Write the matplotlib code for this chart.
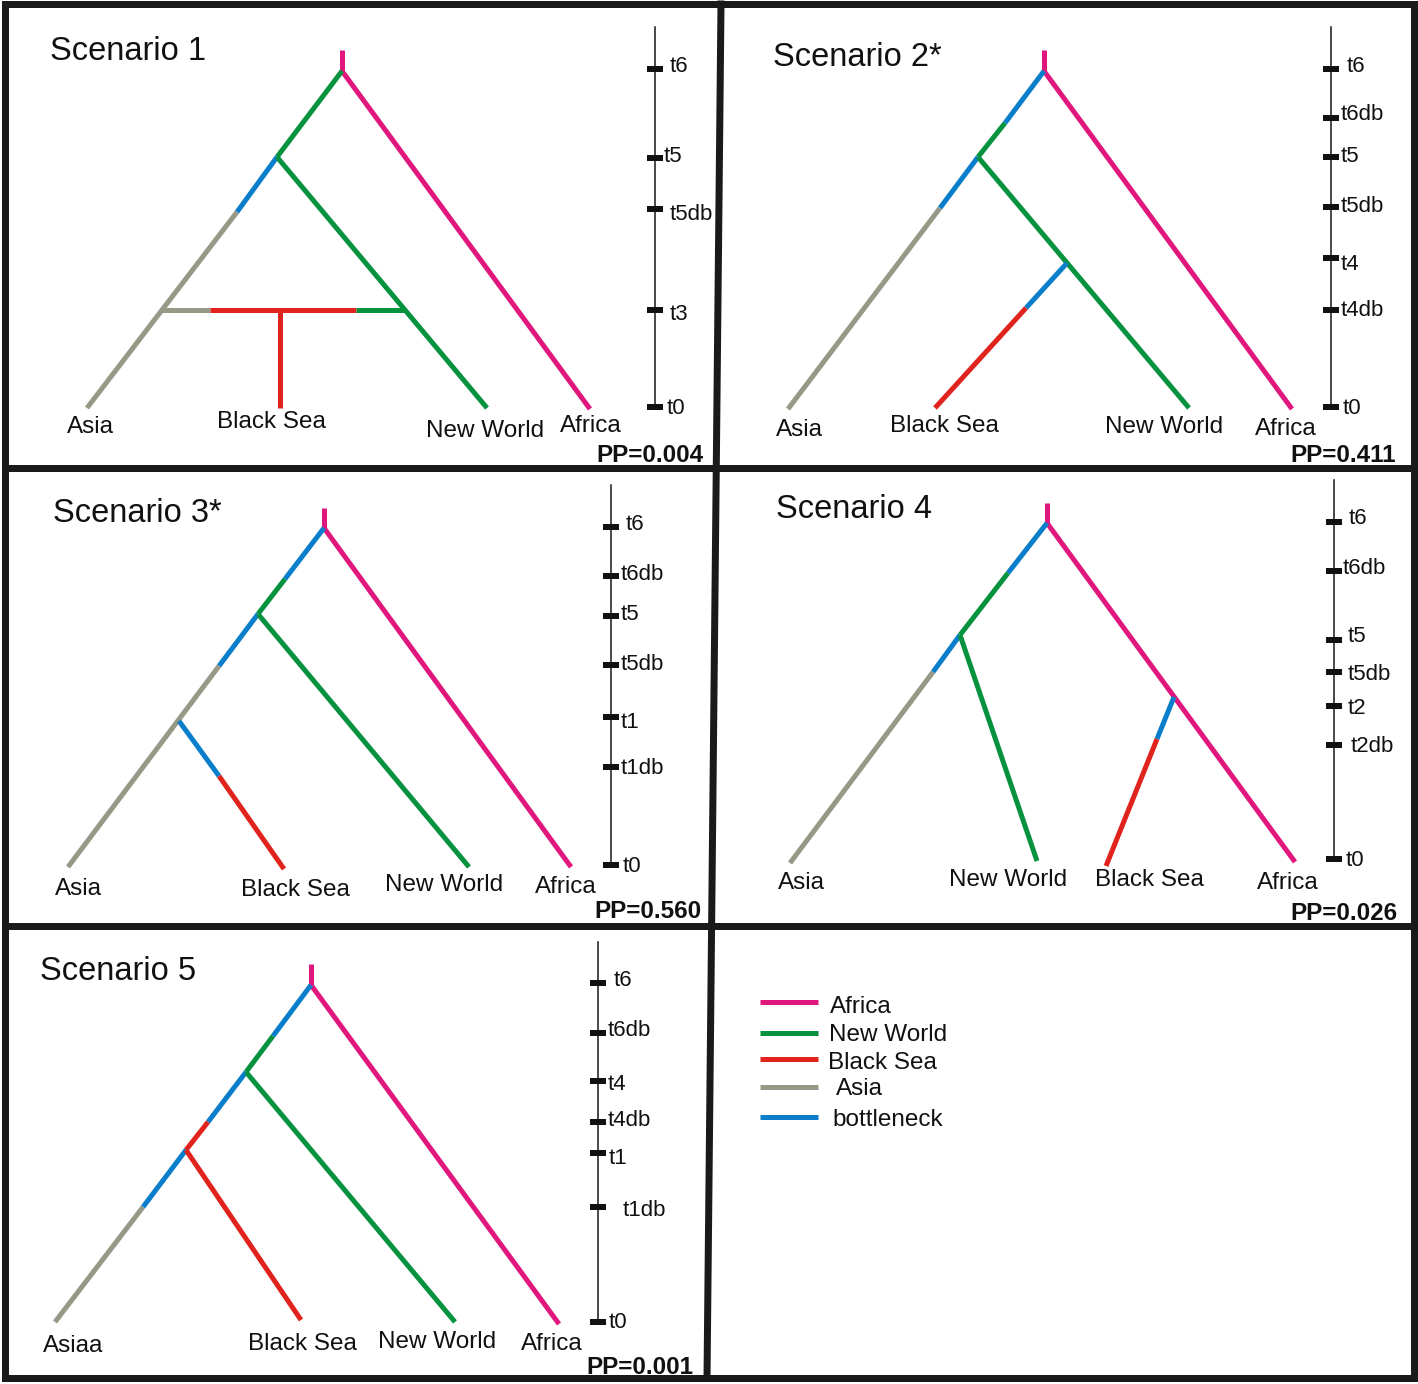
import matplotlib
matplotlib.use("Agg")
import matplotlib.pyplot as plt

plt.rcParams['font.family'] = ['Liberation Sans', 'DejaVu Sans']

W, H = 1418, 1384
DPI = 100
PX = 72.0 / DPI  # points per pixel
TEXT_SHIFT = 2   # pixels: visual centring of glyphs

# ---------------- colours / legend ----------------
LEGEND_NAMES = ["Africa", "New World", "Black Sea", "Asia", "bottleneck"]
COLORS = {
    "Africa": "#E0187E",
    "New World": "#07923F",
    "Black Sea": "#E0231C",
    "Asia": "#989887",
    "bottleneck": "#0A7ECB",
}

# ---------------- scenario titles / posterior probabilities ----------------
TITLES = ["Scenario 1", "Scenario 2*", "Scenario 3*", "Scenario 4", "Scenario 5"]
PP_VALUES = ["0.004", "0.411", "0.560", "0.026", "0.001"]

# ---------------- time axes (labels and their heights) ----------------
S1_TICKS = ["t6", "t5", "t5db", "t3", "t0"]
S1_TICK_Y = [69, 158, 209, 310, 407]
S2_TICKS = ["t6", "t6db", "t5", "t5db", "t4", "t4db", "t0"]
S2_TICK_Y = [69, 118, 157, 207, 258, 310, 407]
S3_TICKS = ["t6", "t6db", "t5", "t5db", "t1", "t1db", "t0"]
S3_TICK_Y = [527, 576, 616, 665, 717, 767, 865]
S4_TICKS = ["t6", "t6db", "t5", "t5db", "t2", "t2db", "t0"]
S4_TICK_Y = [522, 571, 640, 672, 706, 745, 859]
S5_TICKS = ["t6", "t6db", "t4", "t4db", "t1", "t1db", "t0"]
S5_TICK_Y = [983, 1033, 1081, 1122, 1153, 1207, 1322]

# ---------------- tip labels ----------------
S1_TIPS = ["Asia", "Black Sea", "New World", "Africa"]
S2_TIPS = ["Asia", "Black Sea", "New World", "Africa"]
S3_TIPS = ["Asia", "Black Sea", "New World", "Africa"]
S4_TIPS = ["Asia", "New World", "Black Sea", "Africa"]
S5_TIPS = ["Asiaa", "Black Sea", "New World", "Africa"]

# ---------------- tree branches: (population colour, start node, end node) ----------------
S1_BRANCHES = [
    ("Africa", (342, 50), (342, 71)),
    ("Africa", (342, 71), (590, 409)),
    ("New World", (342, 71), (277, 157)),
    ("bottleneck", (277, 157), (237, 212)),
    ("Asia", (237, 212), (87, 408)),
    ("New World", (277, 157), (487, 408)),
    ("Asia", (162, 310), (210, 310)),
    ("Black Sea", (210, 310), (356, 310)),
    ("New World", (356, 310), (405, 310)),
    ("Black Sea", (280, 310), (280, 408)),
]
S2_BRANCHES = [
    ("Africa", (1044, 50), (1044, 71)),
    ("Africa", (1044, 71), (1292, 409)),
    ("bottleneck", (1044, 71), (1005, 123)),
    ("New World", (1005, 123), (978, 157)),
    ("bottleneck", (978, 157), (940, 208)),
    ("Asia", (940, 208), (788, 409)),
    ("New World", (978, 157), (1189, 408)),
    ("bottleneck", (1067, 263), (1026, 308)),
    ("Black Sea", (1026, 308), (935, 408)),
]
S3_BRANCHES = [
    ("Africa", (324, 508), (324, 528)),
    ("Africa", (324, 528), (571, 867)),
    ("bottleneck", (324, 528), (285, 579)),
    ("New World", (285, 579), (258, 614)),
    ("bottleneck", (258, 614), (219, 666)),
    ("Asia", (219, 666), (68, 867)),
    ("New World", (258, 614), (469, 867)),
    ("bottleneck", (179, 721), (219, 776)),
    ("Black Sea", (219, 776), (284, 869)),
]
S4_BRANCHES = [
    ("Africa", (1047, 503), (1047, 523)),
    ("Africa", (1047, 523), (1295, 862)),
    ("bottleneck", (1047, 523), (1008, 573)),
    ("New World", (1008, 573), (960, 635)),
    ("bottleneck", (960, 635), (933, 672)),
    ("Asia", (933, 672), (790, 863)),
    ("New World", (960, 635), (1037, 861)),
    ("bottleneck", (1174, 697), (1157, 739)),
    ("Black Sea", (1157, 739), (1106, 866)),
]
S5_BRANCHES = [
    ("Africa", (311, 964), (311, 985)),
    ("Africa", (311, 985), (559, 1324)),
    ("bottleneck", (311, 985), (273, 1036)),
    ("New World", (273, 1036), (246, 1072)),
    ("bottleneck", (246, 1072), (208, 1122)),
    ("Black Sea", (208, 1122), (186, 1150)),
    ("bottleneck", (186, 1150), (143, 1207)),
    ("Asia", (143, 1207), (55, 1322)),
    ("Black Sea", (186, 1150), (301, 1320)),
    ("New World", (246, 1072), (455, 1322)),
]

# ---------------- layout (positions of panel furniture) ----------------
TITLE_POS = [(50, 50), (773, 55), (53, 512), (776, 507), (40, 969)]
AXIS_X = [655, 1331, 611, 1334, 598]
AXIS_SPAN = [(27, 407), (27, 407), (485, 865), (480, 859), (942, 1322)]
TICK_LABEL_DX = [
    [15, 9, 15, 15, 12],
    [16, 10, 10, 10, 10, 10, 12],
    [15, 10, 10, 10, 10, 10, 12],
    [15, 9, 14, 14, 14, 17, 12],
    [16, 10, 10, 10, 11, 25, 11],
]
TICK_LABEL_DY = [
    [-5, -3, 3, 2, -1],
    [-5, -5, -3, -3, 4, -1, -1],
    [-5, -4, -3, -2, 3, 0, -1],
    [-5, -4, -5, 1, 0, -1, -1],
    [-5, -5, 1, -3, 4, 2, -2],
]
TIP_LABEL_POS = [
    [(90, 425), (271, 420), (485, 429), (591, 424)],
    [(799, 428), (944, 424), (1164, 425), (1286, 427)],
    [(78, 887), (295, 888), (444, 883), (566, 885)],
    [(801, 881), (1008, 878), (1149, 878), (1288, 881)],
    [(73, 1344), (302, 1342), (437, 1340), (552, 1342)],
]
PP_POS = [(703, 453), (1396, 454), (702, 909), (1398, 912), (693, 1366)]
LEGEND_Y = [1002, 1033, 1059, 1087, 1117]
LEGEND_TEXT_X = [830, 829, 828, 836, 832]
LEGEND_TEXT_DY = [3, 0, 2, 0, 1]

SCEN_TICKS = [S1_TICKS, S2_TICKS, S3_TICKS, S4_TICKS, S5_TICKS]
SCEN_TICK_Y = [S1_TICK_Y, S2_TICK_Y, S3_TICK_Y, S4_TICK_Y, S5_TICK_Y]
SCEN_TIPS = [S1_TIPS, S2_TIPS, S3_TIPS, S4_TIPS, S5_TIPS]
SCEN_BRANCHES = [S1_BRANCHES, S2_BRANCHES, S3_BRANCHES, S4_BRANCHES, S5_BRANCHES]

BRANCH_LW = 5 * PX
FRAME_LW = 7 * PX

fig = plt.figure(figsize=(W / DPI, H / DPI), dpi=DPI)
fig.patch.set_facecolor("white")
ax = fig.add_axes([0, 0, 1, 1])
ax.set_xlim(0, W)
ax.set_ylim(H, 0)
ax.axis("off")

# frame and dividers
fx0, fx1, fy0, fy1 = 5, 1414, 4, 1378
ax.plot([fx0, fx1, fx1, fx0, fx0], [fy0, fy0, fy1, fy1, fy0], color="#1a1a1a",
        lw=FRAME_LW, solid_joinstyle="miter", zorder=5)
ax.plot([fx0, fx1], [468, 468], color="#1a1a1a", lw=FRAME_LW, zorder=5)
ax.plot([fx0, fx1], [926, 926], color="#1a1a1a", lw=FRAME_LW, zorder=5)
ax.plot([721, 707], [fy0, fy1], color="#1a1a1a", lw=FRAME_LW, zorder=5)

for i in range(5):
    # title
    tx, ty = TITLE_POS[i]
    ax.text(tx, ty + TEXT_SHIFT, TITLES[i], fontsize=23.5, ha="left", va="center",
            color="#111111")

    # time axis
    axx = AXIS_X[i]
    y0, y1 = AXIS_SPAN[i]
    ax.plot([axx, axx], [y0, y1], color="#222222", lw=1.6 * PX)
    for lab, ty_, dx, dy in zip(SCEN_TICKS[i], SCEN_TICK_Y[i], TICK_LABEL_DX[i], TICK_LABEL_DY[i]):
        ax.plot([axx - 8, axx + 8], [ty_, ty_], color="#111111", lw=6 * PX,
                solid_capstyle="butt")
        ax.text(axx + dx, ty_ + dy + TEXT_SHIFT, lab, fontsize=16, ha="left", va="center",
                color="#111111")

    # branches
    for pop, p0, p1 in SCEN_BRANCHES[i]:
        ax.plot([p0[0], p1[0]], [p0[1], p1[1]], color=COLORS[pop], lw=BRANCH_LW,
                solid_capstyle="butt", zorder=3)

    # tip labels
    for lab, (lx, ly) in zip(SCEN_TIPS[i], TIP_LABEL_POS[i]):
        ax.text(lx, ly + TEXT_SHIFT, lab, fontsize=17.5, ha="center", va="center",
                color="#111111")

    # PP
    px_, py_ = PP_POS[i]
    ax.text(px_, py_ + TEXT_SHIFT, "PP=" + PP_VALUES[i], fontsize=17.5, fontweight="bold",
            ha="right", va="center", color="#111111")

# legend
for name, ly, lx, dy in zip(LEGEND_NAMES, LEGEND_Y, LEGEND_TEXT_X, LEGEND_TEXT_DY):
    ax.plot([760, 818], [ly, ly], color=COLORS[name], lw=5 * PX, solid_capstyle="butt")
    ax.text(lx, ly + dy + TEXT_SHIFT, name, fontsize=17.5, ha="left", va="center",
            color="#111111")

fig.savefig("out.png", dpi=DPI, facecolor="white")
